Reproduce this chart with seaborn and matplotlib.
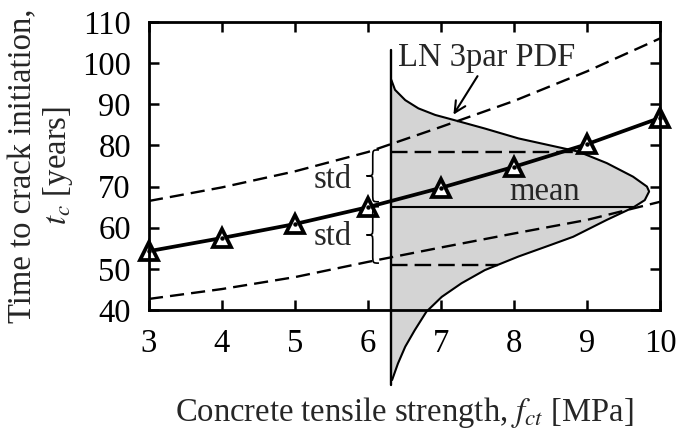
import numpy as np
import matplotlib
matplotlib.use('Agg')
import matplotlib.pyplot as plt
import seaborn as sns
from matplotlib.path import Path
from matplotlib.patches import PathPatch

# values
fct = [3, 4, 5, 6, 7, 8, 9, 10]
tc_mean = [54.3, 57.5, 60.9, 65.0, 69.7, 74.8, 80.3, 86.7]
tc_upper = [66.5, 69.8, 73.7, 78.4, 84.5, 90.8, 98.0, 106.0]
tc_lower = [42.7, 45.1, 48.0, 51.7, 55.2, 58.6, 61.9, 66.3]

# LN 3par PDF drawn sideways at fct = 6.32 (x = baseline + density), bottom to top
pdf_base = 6.32
pdf_y = [23.0, 27.0, 31.1, 35.1, 39.6, 43.2, 46.5, 49.7, 53.0, 55.8, 57.8, 61.9, 64.9,
         66.7, 68.8, 70.0, 72.4, 75.7, 78.5, 79.9, 81.7, 84.1, 86.3, 87.4, 89.0, 91.0,
         93.5, 95.9]
pdf_x = [6.33, 6.41, 6.51, 6.64, 6.80, 7.01, 7.28, 7.60, 8.06, 8.50, 8.81, 9.27, 9.63,
         9.79, 9.85, 9.82, 9.63, 9.27, 8.88, 8.52, 8.06, 7.60, 7.15, 6.92, 6.69, 6.51,
         6.37, 6.32]
pdf_top = 103.2
pdf_mean = 65.0
pdf_std_hi = 78.4
pdf_std_lo = 51.0

sns.set_theme(style='ticks')
plt.rcParams['font.family'] = ['Liberation Serif', 'DejaVu Serif']
plt.rcParams['mathtext.fontset'] = 'stix'

fs = 23.5
fig = plt.figure(figsize=(6.77, 4.30), dpi=100)
ax = fig.add_axes([0.220, 0.279, 0.755, 0.670])

# PDF shape
ax.fill_betweenx(pdf_y, pdf_base, pdf_x, color='#d4d4d4', lw=0, zorder=1, clip_on=False)
ax.plot(pdf_x, pdf_y, color='black', lw=1.5, zorder=3, clip_on=False,
        solid_joinstyle='round')
ax.plot([pdf_base, pdf_base], [pdf_y[0] - 1.2, pdf_top], color='black', lw=1.7, zorder=3,
        clip_on=False)

# mean / std lines inside the PDF (end where they meet the curve)
peak = int(np.argmax(pdf_x))
low_y, low_x = pdf_y[:peak + 1], pdf_x[:peak + 1]
up_y, up_x = pdf_y[peak:], pdf_x[peak:]
mean_end = np.interp(pdf_mean, low_y, low_x)
hi_end = np.interp(pdf_std_hi, up_y, up_x)
lo_end = np.interp(pdf_std_lo, low_y, low_x)
ax.plot([pdf_base, mean_end], [pdf_mean, pdf_mean], color='black', lw=1.5, zorder=3)
ax.plot([pdf_base, hi_end], [pdf_std_hi, pdf_std_hi], color='black', lw=1.7,
        dashes=(7, 3), zorder=3)
ax.plot([pdf_base, lo_end], [pdf_std_lo, pdf_std_lo], color='black', lw=1.7,
        dashes=(7, 3), zorder=3)

# bounds (mean +/- std)
sns.lineplot(x=fct, y=tc_upper, ax=ax, color='black', lw=1.7, zorder=4)
sns.lineplot(x=fct, y=tc_lower, ax=ax, color='black', lw=1.7, zorder=4)
for ln in ax.lines[-2:]:
    ln.set_dashes((6, 3))

# mean with open triangles
sns.lineplot(x=fct, y=tc_mean, ax=ax, color='black', lw=2.7, marker='^', markersize=13.5,
             markerfacecolor='white', markeredgecolor='black', markeredgewidth=2.7, zorder=5,
             clip_on=False)
ax.plot(fct, tc_mean, ls='none', marker='o', markersize=2.2, color='black', zorder=6,
        clip_on=False)


def brace(ax, x, y0, y1, w):
    ym = (y0 + y1) / 2
    h = y1 - y0
    xr, xc, xl = x + w, x + w / 2, x
    verts = [(xr, y1), (xc, y1), (xc, y1), (xc, y1 - 0.15 * h),
             (xc, ym + 0.12 * h),
             (xc, ym), (xc, ym), (xl, ym),
             (xc, ym), (xc, ym), (xc, ym - 0.12 * h),
             (xc, y0 + 0.15 * h),
             (xc, y0), (xc, y0), (xr, y0)]
    codes = [Path.MOVETO, Path.CURVE4, Path.CURVE4, Path.CURVE4,
             Path.LINETO,
             Path.CURVE4, Path.CURVE4, Path.CURVE4,
             Path.CURVE4, Path.CURVE4, Path.CURVE4,
             Path.LINETO,
             Path.CURVE4, Path.CURVE4, Path.CURVE4]
    ax.add_patch(PathPatch(Path(verts, codes), fill=False, lw=1.2, color='black', zorder=6))


brace(ax, 5.98, pdf_mean + 1.3, pdf_std_hi + 0.5, 0.17)
brace(ax, 5.98, pdf_std_lo + 0.4, pdf_mean + 0.1, 0.17)

ax.text(5.52, 71.6, 'std', fontsize=fs, ha='center', va='center', zorder=7)
ax.text(5.52, 57.9, 'std', fontsize=fs, ha='center', va='center', zorder=7)
ax.text(8.42, 68.7, 'mean', fontsize=fs, ha='center', va='center', zorder=7)
ax.text(7.62, 101.3, 'LN 3par PDF', fontsize=fs, ha='center', va='center', zorder=7)
ax.annotate('', xy=(7.15, 86.9), xytext=(7.52, 97.4),
            arrowprops=dict(arrowstyle='->', color='black', lw=1.5, mutation_scale=20), zorder=7)

ax.set_xlim(3, 10)
ax.set_ylim(40, 110)
ax.set_xticks(fct)
ax.set_yticks(range(40, 111, 10))
ax.tick_params(direction='in', length=7, width=1.8, top=True, right=True,
               labelsize=fs, pad=13, colors='black')
for s in ax.spines.values():
    s.set_linewidth(2.0)
    s.set_color('black')
    s.set_zorder(8)

ax.set_xlabel('Concrete tensile strength, $f_{ct}$ [MPa]', fontsize=fs, labelpad=26)
ax.set_ylabel('Time to crack initiation,\n$t_c$ [years]', fontsize=fs, labelpad=5,
              linespacing=1.12)

fig.savefig('out.png', dpi=100)
